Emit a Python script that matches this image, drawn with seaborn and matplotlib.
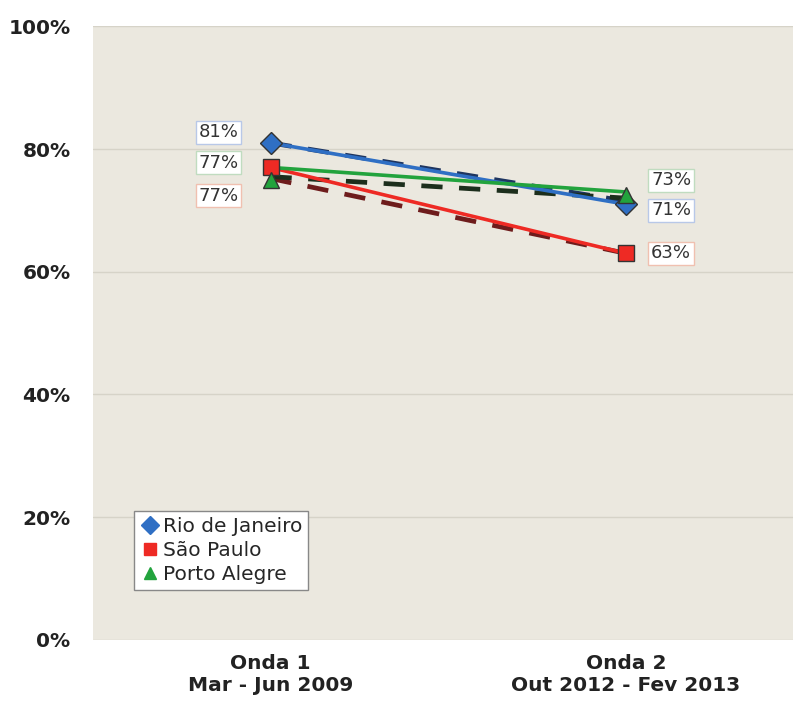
import matplotlib
matplotlib.use("Agg")
import matplotlib.pyplot as plt
import seaborn as sns
import pandas as pd
from matplotlib.ticker import FuncFormatter
from matplotlib.lines import Line2D

# Data
waves = ["Onda 1\nMar - Jun 2009", "Onda 2\nOut 2012 - Fev 2013"]
cities = ["Rio de Janeiro", "São Paulo", "Porto Alegre"]
rio_line = [81, 71]
sp_line = [77, 63]
pa_line = [77, 73]
rio_marker = [81, 71]
sp_marker = [77, 63]
pa_marker = [75, 72.5]
rio_trend = [81, 71.5]
sp_trend = [75.2, 63]
pa_trend = [75.5, 72]
left_labels = ["81%", "77%", "77%"]
right_labels = ["73%", "71%", "63%"]

sns.set_style("white")
plt.rcParams['font.family'] = ['DejaVu Sans']

colors = {"Rio de Janeiro": "#2f6fc4", "São Paulo": "#ee2a24", "Porto Alegre": "#22a33d"}
trend_colors = {"Rio de Janeiro": "#1e3560", "São Paulo": "#6e1c1c", "Porto Alegre": "#1c2e1c"}
markers = {"Rio de Janeiro": "D", "São Paulo": "s", "Porto Alegre": "^"}
msize = {"Rio de Janeiro": 11, "São Paulo": 12, "Porto Alegre": 12}

x = [0, 1]
lines = pd.DataFrame({
    "x": x * 3,
    "val": rio_line + sp_line + pa_line,
    "city": [c for c in cities for _ in x],
})
trends = pd.DataFrame({
    "x": x * 3,
    "val": rio_trend + sp_trend + pa_trend,
    "city": [c for c in cities for _ in x],
})
marks = {"Rio de Janeiro": rio_marker, "São Paulo": sp_marker, "Porto Alegre": pa_marker}

fig = plt.figure(figsize=(7.93, 7.11), dpi=100)
ax = fig.add_axes([0.117, 0.1, 0.883, 0.863])
ax.set_facecolor("#ebe8df")

sns.lineplot(data=lines, x="x", y="val", hue="city", palette=colors,
             linewidth=2.6, legend=False, ax=ax, zorder=3)
for c in cities:
    sub = trends[trends.city == c]
    ax.plot(sub.x, sub.val, color=trend_colors[c], linewidth=3.4,
            dashes=(4.5, 3.5), zorder=2)
for c in cities:
    ax.plot(x, marks[c], linestyle="none", marker=markers[c], markersize=msize[c],
            markerfacecolor=colors[c], markeredgecolor="#333333",
            markeredgewidth=1.0, zorder=4)

# value labels
box_edges = ["#b8c8e8", "#c0dcc0", "#f0c0b0"]
left_y = [82.7, 77.8, 72.4]
for lab, yy, ec in zip(left_labels, left_y, box_edges):
    ax.text(-0.146, yy, lab, ha="center", va="center", fontsize=13, color="#333333",
            bbox=dict(boxstyle="square,pad=0.15", fc="white", ec=ec, lw=1))
right_edges = ["#c0dcc0", "#b8c8e8", "#f0c0b0"]
right_y = [74.9, 70.0, 63.0]
for lab, yy, ec in zip(right_labels, right_y, right_edges):
    ax.text(1.127, yy, lab, ha="center", va="center", fontsize=13, color="#333333",
            bbox=dict(boxstyle="square,pad=0.15", fc="white", ec=ec, lw=1))

ax.set_xlim(-0.5, 1.47)
ax.set_ylim(0, 100)
ax.set_yticks(range(0, 101, 20))
ax.yaxis.set_major_formatter(FuncFormatter(lambda v, p: f"{int(v)}%"))
ax.set_xticks(x)
ax.set_xticklabels(waves)
ax.tick_params(axis="both", length=0, labelsize=14.5, pad=10)
ax.tick_params(axis="y", pad=16)
for t in ax.get_xticklabels() + ax.get_yticklabels():
    t.set_fontweight("bold")
    t.set_color("#222222")
ax.grid(axis="y", color="#d6d3c8", linewidth=1)
ax.set_axisbelow(True)
for s in ax.spines.values():
    s.set_visible(False)
ax.set_xlabel("")
ax.set_ylabel("")

# legend
handles = [Line2D([], [], linestyle="none", marker=markers[c], markersize=9,
                  markerfacecolor=colors[c], markeredgecolor=colors[c]) for c in cities]
leg = ax.legend(handles, cities, loc="lower left", bbox_to_anchor=(0.045, 0.065),
                fontsize=14.5, frameon=True, fancybox=False, handletextpad=0.1,
                handlelength=1.0, borderpad=0.3, labelspacing=0.25)
leg.get_frame().set_edgecolor("#888888")
leg.get_frame().set_facecolor("white")
leg.get_frame().set_alpha(1)

fig.savefig("out.png", dpi=100, facecolor="white")
